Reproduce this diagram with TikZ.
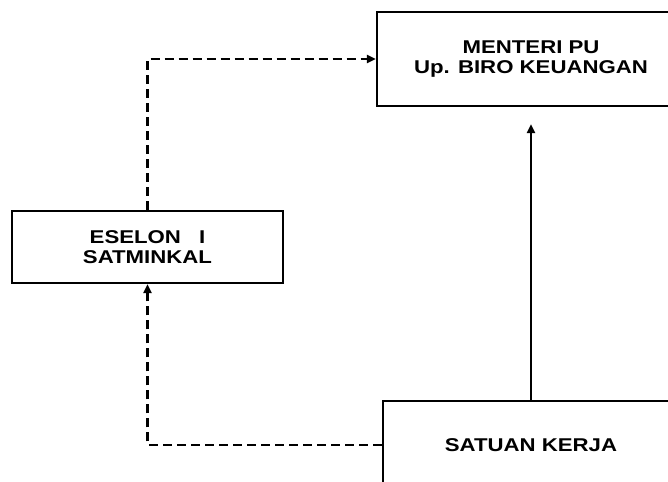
\documentclass[tikz,border=0pt]{standalone}
\usepackage{fontspec}
\newfontfamily\boxfont{Liberation Sans}[FakeStretch=1.2]
\usetikzlibrary{arrows.meta}

\begin{document}
\begin{tikzpicture}[x=1pt, y=-1pt,
    unitbox/.style={draw, line width=2.2pt, align=center, inner sep=0pt,
        font=\boxfont\bfseries\fontsize{18.5}{20.5}\selectfont},
    flow/.style={line width=2.2pt, -{Triangle[length=9pt,width=8pt]}},
    report/.style={flow, dash pattern=on 9pt off 5pt}]
    \useasboundingbox (0, 0) rectangle (668, 481);

    % Ministry on top
    \node[unitbox, minimum width=308, minimum height=94] (menteri) at (531, 59)
        {MENTERI PU\\Up. BIRO KEUANGAN};

    % Echelon I on the left
    \node[unitbox, minimum width=271, minimum height=72] (eselon) at (147.5, 247)
        {ESELON\hspace{12pt} I\\SATMINKAL};

    % Work unit at the bottom
    \node[unitbox, minimum width=296, minimum height=88] (satuan) at (531, 445)
        {SATUAN KERJA};

    % Direct line
    \draw[flow, shorten >=17pt] (satuan.north) -- (menteri.south);

    % Copies through echelon I
    \draw[report] (satuan.west) -| (eselon.south);
    \draw[report] (eselon.north) |- (menteri.west);
\end{tikzpicture}
\end{document}
